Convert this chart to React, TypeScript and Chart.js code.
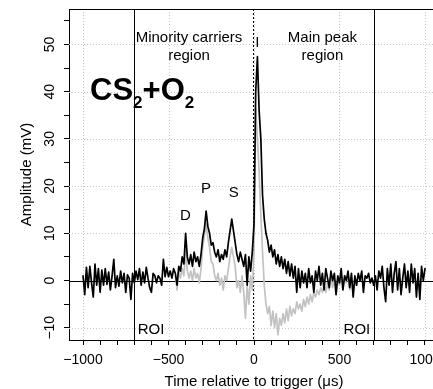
import React, { useEffect, useRef } from "react";
import { Chart, registerables } from "chart.js";

Chart.register(...registerables);

// Time axis sampling (µs)
const BLACK_T_START = -1000;
const GRAY_T_START = -460;
const T_STEP = 10;

// CS2+O2 signal (black), -1000 .. 1000 µs
const blackAmplitude = [
  1.0, -3.0, 2.8, -1.5, 3.0, -0.5, -3.5, 3.5, -1.0, 2.5,
  -2.5, 2.2, -1.0, 2.5, -0.8, 1.8, -2.0, 1.0, 4.5, -1.5,
  1.0, -1.2, 2.0, -0.5, 1.5, -2.5, 1.2, 0.5, -4.0, 1.5,
  -0.5, 2.0, 0.2, 2.5, -1.0, 1.8, -0.5, 2.8, 0.5, -1.5,
  -2.5, 1.5, 1.0, -0.5, 1.0, 0.5, -1.0, 4.5, 0.8, 2.8,
  0.8, 2.0, 0.5, 2.5, 1.5, -1.0, 3.0, 2.0, 5.0, 3.5,
  10.0, 5.0, 3.5, 5.5, 3.0, 6.0, 4.0, 5.0, 3.0, 5.5,
  9.0, 11.0, 14.7, 11.5, 10.0, 7.5, 8.0, 6.0, 5.0, 6.5,
  4.0, 5.5, 4.5, 6.5, 5.0, 8.0, 10.5, 13.0, 10.5, 8.0,
  5.5, 4.0, 6.0, 4.5, 3.0, 5.5, -1.0, 5.0, 2.0, 6.0,
  12.0, 40.0, 47.4, 36.0, 30.0, 18.0, 13.0, 10.0, 8.5, 6.0,
  7.5, 5.0, 6.5, 3.5, 5.5, 3.0, 5.0, 2.5, 4.5, 1.5,
  4.0, 1.0, 3.5, 0.5, 3.0, -2.5, 2.5, -1.5, 2.0, -0.5,
  1.5, -1.5, 2.5, -0.5, 1.0, -2.5, 2.0, 0.0, 3.0, -1.0,
  1.5, -2.0, 2.5, 0.5, -1.5, 2.0, 0.0, 1.5, -3.0, 1.0,
  -0.5, 2.5, -2.0, 1.0, 0.0, 2.0, -1.5, 1.5, -3.5, 1.0,
  -1.0, 1.5, 0.0, 2.0, -2.5, 1.0, 0.5, 1.5, -0.5, 0.5,
  -1.0, 1.0, -2.0, 2.0, 0.5, 3.0, -1.5, -4.5, 2.5, -1.0,
  3.5, -2.5, 1.5, 4.0, -2.0, 2.5, -3.0, 0.5, 3.5, -1.5,
  2.0, -2.5, 3.5, -0.5, 2.5, -3.5, 1.5, -4.0, 3.0, 0.0,
  2.5,
];

// Reference signal (gray), -460 .. 600 µs
const grayAmplitude = [
  1.0, -2.0, 2.0, 0.5, 2.5, 1.0, 6.5, 2.0, 0.5, 2.0,
  0.0, 2.5, 0.5, 1.5, -0.5, 2.5, 7.0, 9.5, 12.0, 9.0,
  7.0, 4.0, 3.5, 1.0, 0.0, 1.5, -1.0, 0.5, -2.0, 1.0,
  0.0, 2.5, 5.0, 7.0, 5.0, 3.0, -1.5, 0.0, -2.5, 1.0,
  -2.5, -8.0, -1.0, -5.0, 1.0, -2.0, 6.0, 36.5, 30.0, 23.0,
  14.0, 6.0, -1.0, -5.0, -7.0, -5.5, -9.5, -6.5, -10.0, -7.0,
  -11.5, -8.0, -9.5, -7.0, -9.0, -6.0, -8.5, -5.5, -7.5, -6.0,
  -7.0, -4.5, -6.0, -5.0, -6.5, -4.0, -5.5, -3.5, -5.0, -3.0,
  -4.5, -2.5, -3.5, -2.0, -3.0, -1.5, -2.5, -1.0, -2.5, -0.5,
  -2.0, 0.5, -1.5, 0.5, -3.0, 0.0, -1.0, 1.5, -2.0, 0.5,
  -0.5, 1.5, -2.0, 1.0, -3.5, 0.5, -1.0,
];

const xTickValues = [
  -1000, -900, -800, -700, -600, -500, -400, -300, -200, -100, 0,
  100, 200, 300, 400, 500, 600, 700, 800, 900, 1000,
];
const xLabelValues = [-1000, -500, 0, 500, 1000];
const yTickValues = [-10, -5, 0, 5, 10, 15, 20, 25, 30, 35, 40, 45, 50, 55];
const yLabelValues = [-10, 0, 10, 20, 30, 40, 50];

const roiLines = [-700, 700];
const triggerLines = [-8];
const baselineLines = [0];

const X_MIN = -1082;
const X_MAX = 1082;
const Y_MIN = -12.6;
const Y_MAX = 57.5;

type Note = { text: string; x: number; y: number };
const notes: Note[] = [
  { text: "Minority carriers", x: -380, y: 50.55 },
  { text: "region", x: -380, y: 46.8 },
  { text: "Main peak", x: 400, y: 50.55 },
  { text: "region", x: 400, y: 46.8 },
  { text: "I", x: 19, y: 49.5 },
  { text: "D", x: -401, y: 12.8 },
  { text: "P", x: -280, y: 18.6 },
  { text: "S", x: -118, y: 17.6 },
  { text: "ROI", x: -602, y: -11.4 },
  { text: "ROI", x: 602, y: -11.4 },
];
const formulaAnchor = { x: -959, y: 38.3 };

const FONT = '"Liberation Sans", Arial, Helvetica, sans-serif';

const fmt = (v: number) => (v < 0 ? "\u2212" + Math.abs(v) : String(v));

const decorPlugin = {
  id: "decor",
  beforeDatasetsDraw(chart: any) {
    const { ctx, chartArea: a, scales } = chart;
    const xs = scales.x;
    const ys = scales.y;
    ctx.save();
    ctx.beginPath();
    ctx.rect(a.left, a.top, a.right - a.left, a.bottom - a.top);
    ctx.clip();

    // dotted grid at labelled ticks
    ctx.strokeStyle = "#c9c9c9";
    ctx.lineWidth = 1;
    ctx.setLineDash([1, 2]);
    xLabelValues.forEach((v) => {
      const px = Math.round(xs.getPixelForValue(v)) + 0.5;
      ctx.beginPath();
      ctx.moveTo(px, a.top);
      ctx.lineTo(px, a.bottom);
      ctx.stroke();
    });
    yLabelValues.forEach((v) => {
      const py = Math.round(ys.getPixelForValue(v)) + 0.5;
      ctx.beginPath();
      ctx.moveTo(a.left, py);
      ctx.lineTo(a.right, py);
      ctx.stroke();
    });

    ctx.setLineDash([]);
    ctx.strokeStyle = "#000";
    baselineLines.forEach((v) => {
      const py = Math.round(ys.getPixelForValue(v)) + 0.5;
      ctx.beginPath();
      ctx.moveTo(a.left, py);
      ctx.lineTo(a.right, py);
      ctx.stroke();
    });
    roiLines.forEach((v) => {
      const px = Math.round(xs.getPixelForValue(v)) + 0.5;
      ctx.beginPath();
      ctx.moveTo(px, a.top);
      ctx.lineTo(px, a.bottom);
      ctx.stroke();
    });
    ctx.setLineDash([2, 2]);
    triggerLines.forEach((v) => {
      const px = Math.round(xs.getPixelForValue(v)) + 0.5;
      ctx.beginPath();
      ctx.moveTo(px, a.top);
      ctx.lineTo(px, a.bottom);
      ctx.stroke();
    });
    ctx.restore();
  },
  afterDraw(chart: any) {
    const { ctx, chartArea: a, scales } = chart;
    const xs = scales.x;
    const ys = scales.y;
    ctx.save();
    ctx.fillStyle = "#000";
    ctx.strokeStyle = "#000";
    ctx.lineWidth = 1;

    // top & right box edges
    ctx.beginPath();
    ctx.moveTo(a.left, Math.round(a.top) + 0.5);
    ctx.lineTo(a.right, Math.round(a.top) + 0.5);
    ctx.lineTo(a.right, a.bottom);
    ctx.stroke();

    // tick labels
    ctx.font = `14px ${FONT}`;
    ctx.textAlign = "center";
    ctx.textBaseline = "alphabetic";
    xs.ticks.forEach((t: any) => {
      if (!xLabelValues.includes(t.value)) return;
      const px = xs.getPixelForValue(t.value);
      ctx.fillText(fmt(t.value), px, a.bottom + 23.5);
    });
    ys.ticks.forEach((t: any) => {
      if (!yLabelValues.includes(t.value)) return;
      const py = ys.getPixelForValue(t.value);
      ctx.save();
      ctx.translate(a.left - 15.5, py);
      ctx.rotate(-Math.PI / 2);
      ctx.fillText(fmt(t.value), 0, 0);
      ctx.restore();
    });

    // axis titles
    ctx.font = `15px ${FONT}`;
    ctx.fillText("Time relative to trigger (\u03bcs)", (a.left + a.right) / 2, a.bottom + 46);
    ctx.save();
    ctx.translate(a.left - 38, (a.top + a.bottom) / 2);
    ctx.rotate(-Math.PI / 2);
    ctx.fillText("Amplitude (mV)", 0, 0);
    ctx.restore();

    // annotations
    notes.forEach((n) => {
      ctx.fillText(n.text, xs.getPixelForValue(n.x), ys.getPixelForValue(n.y));
    });

    // CS2+O2 formula
    let fx = xs.getPixelForValue(formulaAnchor.x);
    const fy = ys.getPixelForValue(formulaAnchor.y);
    ctx.textAlign = "left";
    const big = `bold 31px ${FONT}`;
    const small = `bold 17px ${FONT}`;
    const parts: [string, boolean][] = [
      ["CS", false],
      ["2", true],
      ["+O", false],
      ["2", true],
    ];
    parts.forEach(([s, sub]) => {
      ctx.font = sub ? small : big;
      ctx.fillText(s, fx, sub ? fy + 8 : fy);
      fx += ctx.measureText(s).width;
    });
    ctx.restore();
  },
};

export default function App() {
  const ref = useRef<HTMLCanvasElement>(null);
  useEffect(() => {
    if (!ref.current) return;
    const blackPts = blackAmplitude.map((y, i) => ({ x: BLACK_T_START + i * T_STEP, y }));
    const grayPts = grayAmplitude.map((y, i) => ({ x: GRAY_T_START + i * T_STEP, y }));
    const chart = new Chart(ref.current, {
      type: "line",
      data: {
        datasets: [
          {
            data: blackPts,
            borderColor: "#000",
            borderWidth: 1.7,
            pointRadius: 0,
            tension: 0,
            borderJoinStyle: "round",
            borderCapStyle: "round",
          },
          {
            data: grayPts,
            borderColor: "#c2c2c2",
            borderWidth: 1.7,
            pointRadius: 0,
            tension: 0,
            borderJoinStyle: "round",
            borderCapStyle: "round",
          },
        ],
      },
      options: {
        responsive: false,
        animation: false,
        devicePixelRatio: 1,
        events: [],
        layout: { padding: { top: 9, right: 6, left: 0, bottom: 0 } },
        plugins: { legend: { display: false }, tooltip: { enabled: false } },
        scales: {
          x: {
            type: "linear",
            min: X_MIN,
            max: X_MAX,
            afterBuildTicks: (s: any) => {
              s.ticks = xTickValues.map((v) => ({ value: v }));
            },
            afterFit: (s: any) => {
              s.height = 49;
            },
            ticks: { display: false },
            grid: {
              color: "#000",
              lineWidth: 1,
              tickColor: "#000",
              tickLength: 5,
              drawTicks: true,
              drawOnChartArea: false,
            },
            border: { display: true, color: "#000", width: 1 },
          },
          y: {
            type: "linear",
            min: Y_MIN,
            max: Y_MAX,
            afterBuildTicks: (s: any) => {
              s.ticks = yTickValues.map((v) => ({ value: v }));
            },
            afterFit: (s: any) => {
              s.width = 69;
            },
            ticks: { display: false },
            grid: {
              color: "#000",
              lineWidth: 1,
              tickColor: "#000",
              tickLength: 5,
              drawTicks: true,
              drawOnChartArea: false,
            },
            border: { display: true, color: "#000", width: 1 },
          },
        },
      } as any,
      plugins: [decorPlugin],
    });
    return () => chart.destroy();
  }, []);
  return (
    <div
      style={{
        position: "absolute",
        left: 0,
        top: 0,
        width: 433,
        height: 389,
        overflow: "hidden",
        background: "#fff",
      }}
    >
      <canvas ref={ref} width={445} height={389} style={{ display: "block", width: 445, height: 389 }} />
    </div>
  );
}
